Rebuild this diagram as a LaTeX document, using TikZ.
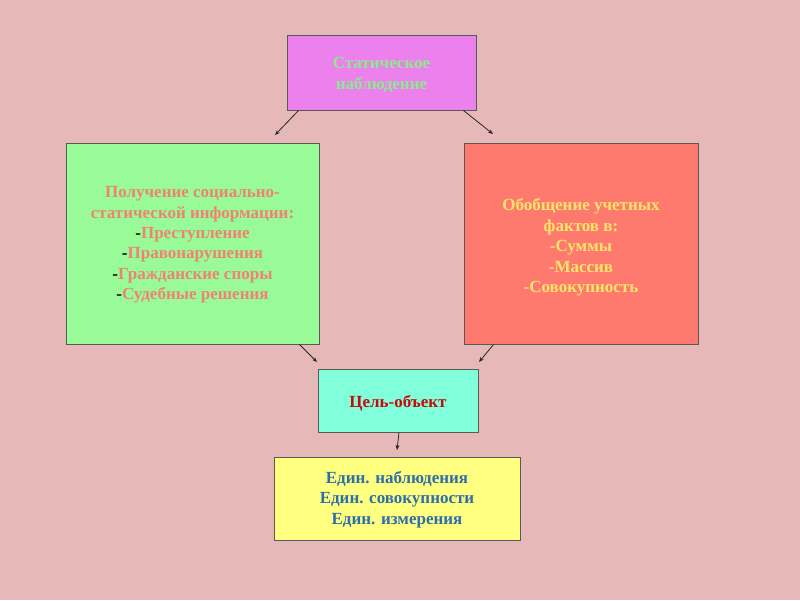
\documentclass[tikz,border=0pt]{standalone}
\usepackage{fontspec}
\setmainfont{Liberation Serif}
\usetikzlibrary{arrows.meta}
\definecolor{bg}{HTML}{E6B9B8}
\definecolor{violetbox}{HTML}{EC80EC}
\definecolor{greenbox}{HTML}{98FB98}
\definecolor{redbox}{HTML}{FF7A6E}
\definecolor{aquabox}{HTML}{80FFDA}
\definecolor{yellowbox}{HTML}{FFFF80}
\definecolor{greentext}{HTML}{8EEA8E}
\definecolor{salmontext}{HTML}{F08272}
\definecolor{yellowtext}{HTML}{FFE56A}
\definecolor{redtext}{HTML}{C80A0A}
\definecolor{bluetext}{HTML}{2E6FAA}
\begin{document}
\begin{tikzpicture}[x=1pt,y=-1pt,
  box/.style={draw=black!65, line width=1pt, inner sep=0pt},
  txt/.style={align=center, inner sep=0pt, font=\fontsize{17}{20.4}\selectfont\bfseries},
  arr/.style={black!85, line width=0.8pt, -{Stealth[length=5pt,width=4pt]}}]
\fill[bg] (0,0) rectangle (800,600);
\useasboundingbox (0,0) rectangle (800,600);
\node[box, fill=violetbox, minimum width=189pt, minimum height=75pt] (top) at (381.5,72.5) {};
\node[txt, text=greentext] (toptext) at (381.5,75) {Статическое\\наблюдение};
\node[box, fill=greenbox, minimum width=253pt, minimum height=201pt] (left) at (192.5,243.5) {};
\node[txt, text=salmontext] (lefttext) at (192.5,245)
  {Получение социально-\\статической информации:\\\textcolor{black}{-}Преступление\\\textcolor{black}{-}Правонарушения\\\textcolor{black}{-}Гражданские споры\\\textcolor{black}{-}Судебные решения};
\node[box, fill=redbox, minimum width=234pt, minimum height=201pt] (right) at (581,243.5) {};
\node[txt, text=yellowtext] (righttext) at (581,247.5)
  {Обобщение учетных\\фактов в:\\-Суммы\\-Массив\\-Совокупность};
\node[box, fill=aquabox, minimum width=160pt, minimum height=63pt] (mid) at (398,400.5) {};
\node[txt, text=redtext] (midtext) at (398,403) {Цель-объект};
\node[box, fill=yellowbox, minimum width=246pt, minimum height=83pt] (bot) at (397,498.5) {};
\node[txt, text=bluetext] (bottext) at (397,499.5) {Един. наблюдения\\Един. совокупности\\Един. измерения};
\coordinate (e1) at (275,135);
\coordinate (e2) at (493,134);
\coordinate (e3) at (317,362);
\coordinate (e4) at (479,362);
\coordinate (e5) at (397,450);
\draw[arr] ([xshift=12pt]top.south west) -- (e1);
\draw[arr] ([xshift=-13pt]top.south east) -- (e2);
\draw[arr] ([xshift=-20pt]left.south east) -- (e3);
\draw[arr] ([xshift=30pt]right.south west) -- (e4);
\draw[arr] ([xshift=1pt]mid.south) -- (e5);
\end{tikzpicture}
\end{document}
